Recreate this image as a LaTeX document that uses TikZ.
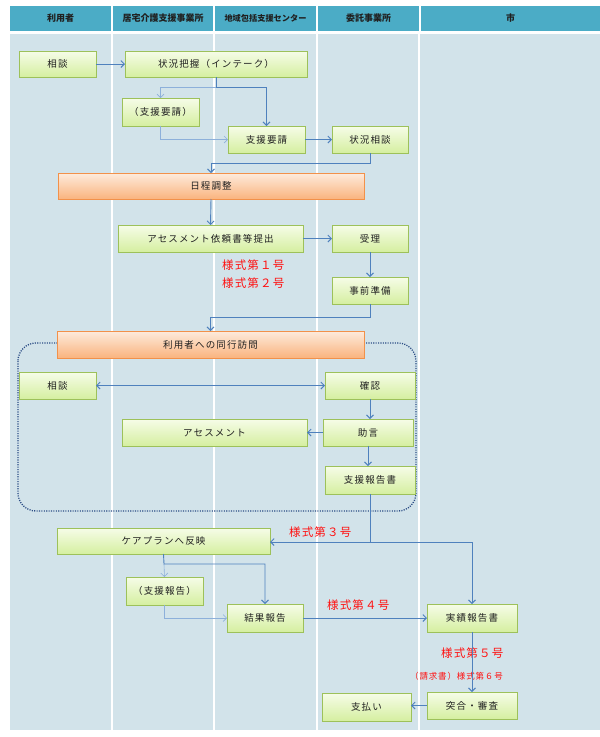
\documentclass[tikz,border=0pt]{standalone}
\usepackage{fontspec}
\newfontfamily\jp[LetterSpace=12]{Noto Sans CJK JP}
\newfontfamily\jph{Noto Sans CJK JP}
\newfontfamily\jpr[LetterSpace=10]{Noto Sans CJK JP}
\usetikzlibrary{arrows.meta,shadows}
\definecolor{bodybg}{HTML}{D2E3EA}
\definecolor{headbg}{HTML}{4BACC6}
\definecolor{gtop}{HTML}{F6FCE8}
\definecolor{gbot}{HTML}{D5EFA0}
\definecolor{gborder}{HTML}{9DC15A}
\definecolor{otop}{HTML}{FDEBDD}
\definecolor{obot}{HTML}{FAB47E}
\definecolor{oborder}{HTML}{F2914A}
\definecolor{arrc}{HTML}{4F81BD}
\definecolor{larrc}{HTML}{8DB0DA}
\definecolor{dotc}{HTML}{2C4D85}
\definecolor{redc}{HTML}{FF1010}
\definecolor{txt}{HTML}{202020}
\begin{document}
\begin{tikzpicture}[x=1pt,y=-1pt,
  gbox/.style={draw=gborder,line width=0.8pt,top color=gtop,bottom color=gbot,
    inner sep=0pt,outer sep=0pt,text=txt,font=\jp\fontsize{9.5}{11}\selectfont,
    drop shadow={shadow xshift=0.8pt,shadow yshift=-1.2pt,opacity=0.3}},
  obox/.style={gbox,draw=oborder,top color=otop,bottom color=obot},
  head/.style={fill=headbg,inner sep=0pt,outer sep=0pt,text=txt,font=\jph\bfseries\fontsize{9}{10}\selectfont},
  arr/.style={draw=arrc,line width=0.9pt,-{Straight Barb[length=3.5pt,width=7pt]}},
  larr/.style={draw=larrc,line width=0.6pt,-{Straight Barb[length=3.5pt,width=7pt]}},
  lline/.style={draw=arrc,line width=0.9pt},
  redl/.style={text=redc,anchor=west,inner sep=0pt,font=\jpr\fontsize{11.5}{12}\selectfont},
  reds/.style={text=redc,anchor=west,inner sep=0pt,font=\jpr\fontsize{8.5}{10}\selectfont}]
\useasboundingbox (0,0) rectangle (600,737);
\fill[white] (0,0) rectangle (600,737);
% body background
\fill[bodybg] (10,34) rectangle (600,730);
\foreach \xx in {112,214,317,419} \draw[white,line width=1.3pt] (\xx,34) -- (\xx,730);
% header
\node[head,minimum width=101pt,minimum height=25pt] (h1) at (60.5,18.5) {利用者};
\node[head,minimum width=100pt,minimum height=25pt] (h2) at (163,18.5) {居宅介護支援事業所};
\node[head,minimum width=101pt,minimum height=25pt,font=\jph\bfseries\fontsize{8.2}{9}\selectfont] (h3) at (265.5,18.5) {地域包括支援センター};
\node[head,minimum width=101pt,minimum height=25pt] (h4) at (368.5,18.5) {委託事業所};
\node[head,minimum width=179pt,minimum height=25pt] (h5) at (510.5,18.5) {市};
% dotted group
\draw[dotc,line width=1.3pt,dash pattern=on 1.1pt off 1.3pt,rounded corners=18pt] (18,343) rectangle (416,511);
% boxes
\node[gbox,minimum width=77pt,minimum height=26pt] (s1) at (57.5,64) {相談};
\node[gbox,minimum width=182pt,minimum height=26pt] (intake) at (216,64) {状況把握（インテーク）};
\node[gbox,minimum width=77pt,minimum height=28pt] (yr1) at (160.5,112) {（支援要請）};
\node[gbox,minimum width=77pt,minimum height=27pt] (yr2) at (266.5,139.5) {支援要請};
\node[gbox,minimum width=76pt,minimum height=27pt] (sc) at (370,139.5) {状況相談};
\node[obox,minimum width=306pt,minimum height=26pt] (nittei) at (211,186) {日程調整};
\node[gbox,minimum width=185pt,minimum height=27pt] (assess) at (210.5,238.5) {アセスメント依頼書等提出};
\node[gbox,minimum width=76pt,minimum height=27pt] (juri) at (370,238.5) {受理};
\node[gbox,minimum width=76pt,minimum height=27pt] (jizen) at (370,290.5) {事前準備};
\node[obox,minimum width=307pt,minimum height=27pt] (doukou) at (210.5,344.5) {利用者への同行訪問};
\node[gbox,minimum width=77pt,minimum height=27pt] (s2) at (57.5,385.5) {相談};
\node[gbox,minimum width=90pt,minimum height=27pt] (kakunin) at (370,385.5) {確認};
\node[gbox,minimum width=185pt,minimum height=27pt] (asm) at (214.5,432.5) {アセスメント};
\node[gbox,minimum width=90pt,minimum height=27pt] (jogen) at (368,432.5) {助言};
\node[gbox,minimum width=90pt,minimum height=28pt] (shien) at (370,480) {支援報告書};
\node[gbox,minimum width=213pt,minimum height=26pt] (careplan) at (163.5,541) {ケアプランへ反映};
\node[gbox,minimum width=77pt,minimum height=28pt] (yr3) at (164.5,591) {（支援報告）};
\node[gbox,minimum width=76pt,minimum height=28pt] (kekka) at (265,618) {結果報告};
\node[gbox,minimum width=90pt,minimum height=28pt] (jisseki) at (472,618) {実績報告書};
\node[gbox,minimum width=90pt,minimum height=27pt] (totsugo) at (472,705.5) {突合・審査};
\node[gbox,minimum width=89pt,minimum height=28pt] (shiharai) at (366.5,707) {支払い};
% red labels
\node[redl] (f1) at (222,265) {様式第１号};
\node[redl] (f2) at (222,283) {様式第２号};
\node[redl] (f3) at (289,532) {様式第３号};
\node[redl] (f4) at (327,605) {様式第４号};
\node[redl] (f5) at (441,653) {様式第５号};
\node[reds] (f6) at (410,676) {（請求書）様式第６号};
% junction coordinates
\coordinate (j1) at (216,87);
\coordinate (j2) at (370,163);
\coordinate (j3) at (370,317);
\coordinate (j4) at (370,542);
\coordinate (j5) at (164,564);
% connectors
\draw[arr] (s1) -- (intake);
\draw[larr] (j1) -| (yr1.north);
\draw[arr] (intake.south) -- (j1) -| (yr2.north);
\draw[larr] (yr1.south) |- (yr2.west);
\draw[arr] (yr2) -- (sc);
\draw[arr] (sc.south) -- (j2) -| (nittei.north);
\draw[arr] (nittei.south) -- (assess.north);
\draw[arr] (assess) -- (juri);
\draw[arr] (juri) -- (jizen);
\draw[arr] (jizen.south) -- (j3) -| (doukou.north);
\draw[arr,{Straight Barb[length=3.5pt,width=7pt]}-{Straight Barb[length=3.5pt,width=7pt]}] (s2) -- (kakunin);
\draw[arr] (kakunin.south) -- (kakunin.south |- jogen.north);
\draw[arr] (jogen) -- (asm);
\draw[arr] (jogen.south) -- (jogen.south |- shien.north);
\draw[lline] (shien.south) -- (j4);
\draw[arr] (j4) -- (careplan.east |- j4);
\draw[arr] (j4) -| (jisseki.north);
\draw[larr] (j5) -- (yr3.north);
\draw[arr] (careplan.south) -- (j5) -| (kekka.north);
\draw[larr] (yr3.south) |- (kekka.west);
\draw[arr] (kekka) -- (jisseki);
\draw[arr] (jisseki) -- (totsugo);
\draw[arr] (totsugo.west) -- (shiharai.east |- totsugo.west);
\end{tikzpicture}
\end{document}
